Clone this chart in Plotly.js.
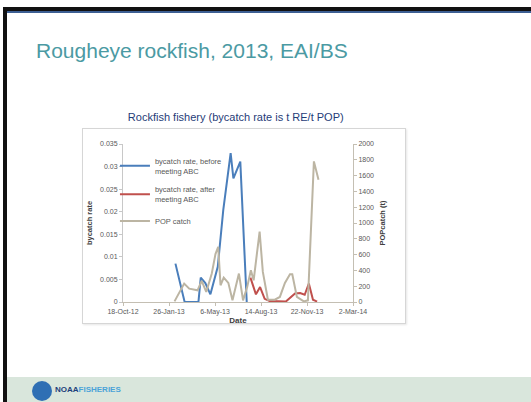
<!DOCTYPE html>
<html>
<head>
<meta charset="utf-8">
<script src="https://cdn.plot.ly/plotly-3.0.1.min.js"></script>
<style>
  html, body { margin:0; padding:0; background:#ffffff; }
  body { width:531px; height:402px; position:relative; overflow:hidden; font-family:"Liberation Sans", Arial, sans-serif; }
  .bar-left { position:absolute; left:3px; top:7px; width:4px; height:395px; background:#111; }
  .bar-top { position:absolute; left:3px; top:7px; width:528px; height:4px; background:#111; }
  .bar-blue { position:absolute; left:7px; top:11px; width:524px; height:2px; background:#3d5f93; }
  .slide-title { position:absolute; left:36px; top:39px; font-size:21px; color:#4b9aa3; white-space:nowrap; }
  .footer { position:absolute; left:7px; top:377px; width:524px; height:25px; background:#d9e6dc; }
  .logo-circle { position:absolute; left:32px; top:381px; width:20px; height:20px; border-radius:50%; background:#2f6fb4; }
  .logo-text { position:absolute; left:55px; top:385px; font-size:8px; font-weight:bold; white-space:nowrap; }
  .chart-box { position:absolute; left:82px; top:128px; width:322px; height:194px; border:1px solid #d6d6d6; box-shadow:1px 1px 2px #e6e6e6; }
  #chart { position:absolute; left:0; top:0; width:531px; height:402px; }
</style>
</head>
<body>
<div class="bar-left"></div>
<div class="bar-top"></div>
<div class="bar-blue"></div>
<div class="slide-title">Rougheye rockfish, 2013, EAI/BS</div>
<div class="chart-box"></div>
<div class="footer"></div>
<div class="logo-circle"></div>
<div class="logo-text"><span style="color:#1d3f7a">NOAA</span><span style="color:#4aa3d8">FISHERIES</span></div>
<div id="chart"></div>
<script>
// Bycatch rate, before meeting ABC (t RE / t POP)
const beforeDates = ['2013-02-09','2013-03-01','2013-03-31','2013-04-05','2013-04-15','2013-04-26','2013-05-12','2013-05-24','2013-06-09','2013-06-15','2013-06-30','2013-07-14'];
const beforeRate  = [0.0085, 0, 0, 0.0054, 0.0042, 0.0017, 0.0078, 0.0204, 0.033, 0.0274, 0.0311, 0];

// Bycatch rate, after meeting ABC
const afterDates = ['2013-07-22','2013-08-03','2013-08-12','2013-08-22','2013-09-02','2013-09-20','2013-10-07','2013-10-27','2013-11-07','2013-11-17','2013-11-26','2013-12-05','2013-12-14'];
const afterRate  = [0.0054, 0.0017, 0.0033, 0.0007, 0.0002, 0.0002, 0.0001, 0.0019, 0.002, 0.0016, 0.0041, 0.0005, 0.0001];

// POP catch (t)
const popDates = ['2013-02-07','2013-02-28','2013-03-11','2013-03-29','2013-04-07','2013-04-17','2013-04-29','2013-05-07','2013-05-13','2013-05-18','2013-05-25','2013-06-04','2013-06-13','2013-06-27','2013-07-06','2013-07-15','2013-07-23','2013-07-29','2013-08-11','2013-08-18','2013-08-29','2013-09-13','2013-09-24','2013-10-05','2013-10-16','2013-10-21','2013-10-31','2013-11-15','2013-11-24','2013-12-07','2013-12-17'];
const popCatch = [8, 233, 169, 148, 267, 127, 360, 606, 699, 212, 309, 242, 21, 360, 21, 191, 403, 275, 890, 381, 30, 30, 64, 242, 352, 352, 64, 8, 21, 1780, 1547];

const xTickVals = ['2012-10-18','2013-01-26','2013-05-06','2013-08-14','2013-11-22','2014-03-02'];
const xTickText = ['18-Oct-12','26-Jan-13','6-May-13','14-Aug-13','22-Nov-13','2-Mar-14'];
const leftTicks = [0, 0.005, 0.01, 0.015, 0.02, 0.025, 0.03, 0.035];
const rightTicks = [0, 200, 400, 600, 800, 1000, 1200, 1400, 1600, 1800, 2000];

const traces = [
  { x: beforeDates, y: beforeRate, type:'scatter', mode:'lines', name:'bycatch rate, before<br>meeting ABC',
    legendgroup:'a', line:{color:'#4a7ebb', width:2} },
  { x: afterDates, y: afterRate, type:'scatter', mode:'lines', name:'bycatch rate, after<br>meeting ABC',
    legendgroup:'b', line:{color:'#c0504d', width:2} },
  { x: popDates, y: popCatch, type:'scatter', mode:'lines', name:'POP catch', yaxis:'y2',
    legendgroup:'c', line:{color:'#bcb5a3', width:2} }
];

const tickFont = {family:'"Liberation Sans", Arial, sans-serif', size:7, color:'#595959'};
const layout = {
  width:531, height:402,
  paper_bgcolor:'rgba(0,0,0,0)', plot_bgcolor:'rgba(0,0,0,0)',
  margin:{l:123, r:178, t:144, b:100, pad:0},
  showlegend:true,
  title:{text:'Rockfish fishery (bycatch rate is t RE/t POP)', xref:'container', yref:'container',
         x:0.444, y:0.709, xanchor:'center', yanchor:'middle',
         font:{family:'"Liberation Sans", Arial, sans-serif', size:11, color:'#1f3c78'}},
  legend:{x:-0.035, y:0.965, xanchor:'left', yanchor:'top', bgcolor:'rgba(0,0,0,0)',
          font:{family:'"Liberation Sans", Arial, sans-serif', size:7.5, color:'#595959'},
          itemwidth:30, tracegroupgap:6},
  xaxis:{type:'date', range:['2012-10-18','2014-03-02'], tickvals:xTickVals, ticktext:xTickText,
         showgrid:false, zeroline:false, showline:true, linecolor:'#c4bfb3', linewidth:1,
         ticks:'outside', ticklen:3, tickcolor:'#c4bfb3', tickfont:tickFont,
         title:{text:'Date', standoff:0, font:{family:'"Liberation Sans", Arial, sans-serif', size:8, color:'#404040', weight:'bold'}}},
  yaxis:{range:[0,0.035], tickvals:leftTicks, ticktext:leftTicks.map(String),
         showgrid:false, zeroline:false, showline:true, linecolor:'#c8c8c8', linewidth:1,
         ticks:'outside', ticklen:3, tickcolor:'#c8c8c8', tickfont:tickFont,
         title:{text:'bycatch rate', standoff:6, font:{family:'"Liberation Sans", Arial, sans-serif', size:7.5, color:'#404040', weight:'bold'}}},
  yaxis2:{range:[0,2000], tickvals:rightTicks, overlaying:'y', side:'right',
         showgrid:false, zeroline:false, showline:true, linecolor:'#c4bfb3', linewidth:1,
         ticks:'outside', ticklen:3, tickcolor:'#c4bfb3', tickfont:tickFont,
         title:{text:'POPcatch (t)', standoff:6, font:{family:'"Liberation Sans", Arial, sans-serif', size:7.5, color:'#404040', weight:'bold'}}}
};

Plotly.newPlot('chart', traces, layout, {displayModeBar:false, staticPlot:true});
</script>
</body>
</html>
